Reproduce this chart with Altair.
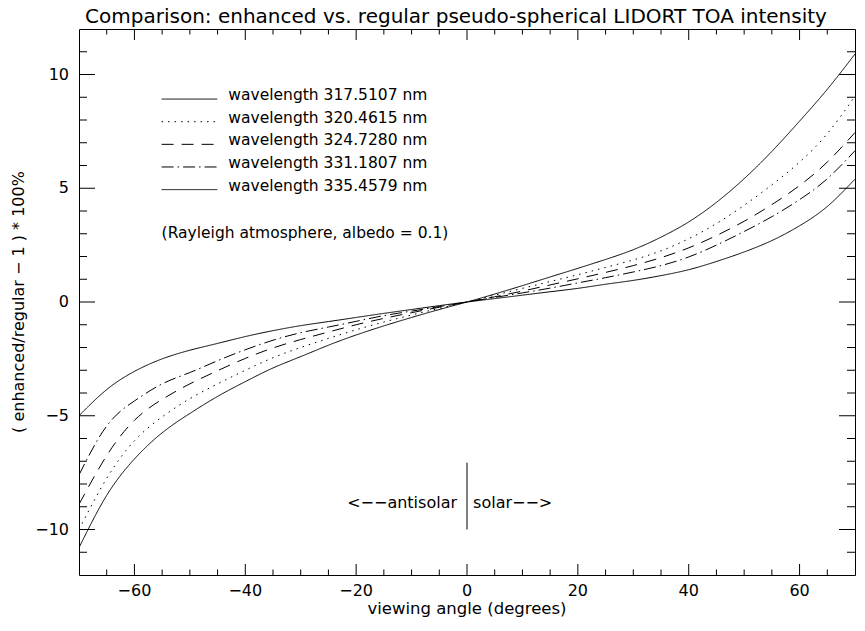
import altair as alt
import pandas as pd

# ---------------- data ----------------
angles = [-70, -65, -60, -55, -50, -45, -40, -35, -30, -25, -20, -15, -10, -5, 0,
          5, 10, 15, 20, 25, 30, 35, 40, 45, 50, 55, 60, 65, 70]

c317 = [-10.8, -8.5, -6.9, -5.75, -4.9, -4.15, -3.5, -2.9, -2.4, -1.9, -1.45, -1.05, -0.68, -0.33, 0,
        0.35, 0.72, 1.1, 1.48, 1.87, 2.3, 2.85, 3.52, 4.38, 5.42, 6.62, 7.95, 9.35, 10.9]
c320 = [-10.0, -7.75, -6.1, -5.05, -4.25, -3.6, -3.0, -2.45, -2.0, -1.6, -1.22, -0.88, -0.57, -0.28, 0,
        0.3, 0.6, 0.9, 1.2, 1.52, 1.85, 2.25, 2.78, 3.45, 4.25, 5.15, 6.15, 7.4, 9.05]
c324 = [-8.9, -6.75, -5.2, -4.28, -3.6, -3.02, -2.48, -2.02, -1.65, -1.32, -1.0, -0.72, -0.47, -0.23, 0,
        0.23, 0.48, 0.75, 1.02, 1.3, 1.6, 1.95, 2.38, 2.92, 3.55, 4.28, 5.12, 6.15, 7.45]
c331 = [-7.6, -5.45, -4.35, -3.6, -3.1, -2.58, -2.1, -1.68, -1.35, -1.1, -0.85, -0.6, -0.4, -0.2, 0,
        0.2, 0.4, 0.61, 0.84, 1.07, 1.32, 1.6, 1.98, 2.5, 3.1, 3.75, 4.5, 5.42, 6.65]
c335 = [-5.0, -3.85, -3.05, -2.5, -2.12, -1.82, -1.52, -1.26, -1.04, -0.86, -0.68, -0.5, -0.33, -0.16, 0,
        0.15, 0.3, 0.45, 0.6, 0.78, 0.95, 1.16, 1.42, 1.78, 2.2, 2.7, 3.35, 4.2, 5.4]

wavelengths = ["317.5107", "320.4615", "324.7280", "331.1807", "335.4579"]
series_values = [c317, c320, c324, c331, c335]

x_major = [-60, -40, -20, 0, 20, 40, 60]
y_major = [-10, -5, 0, 5, 10]
x_minor = [v for v in range(-65, 70, 5) if v not in x_major]
y_minor = [v for v in range(-11, 12) if v not in y_major]

title_text = "Comparison: enhanced vs. regular pseudo-spherical LIDORT TOA intensity"
x_title = "viewing angle (degrees)"
y_title = "( enhanced/regular \u2212 1 ) * 100%"
note_text = "(Rayleigh atmosphere, albedo = 0.1)"
left_word = "<\u2212\u2212antisolar"
right_word = "solar\u2212\u2212>"

# ---------------- styles ----------------
dash_styles = [[1, 0], [1.5, 5], [12, 8], [12, 4, 1.5, 4], [1, 0]]
FONT = "DejaVu Sans"
W, H = 776, 546
X_DOM = [-70, 70]
Y_DOM = [-12, 12]

labels = [f"wavelength {w} nm" for w in wavelengths]


def fmt(v):
    return str(v).replace("-", "\u2212")


rows = []
for lab, vals in zip(labels, series_values):
    for a, v in zip(angles, vals):
        rows.append({"angle": a, "value": v, "series": lab})
df = pd.DataFrame(rows)

xs = alt.Scale(domain=X_DOM, nice=False, zero=False)
ys = alt.Scale(domain=Y_DOM, nice=False, zero=False)
dash_scale = alt.Scale(domain=labels, range=dash_styles)


def X(field):
    return alt.X(field, scale=xs, axis=None)


def Y(field):
    return alt.Y(field, scale=ys, axis=None)


# inward tick marks on all four sides
def xticks(vals, length):
    d = pd.DataFrame({"v": vals})
    base = alt.Chart(d).mark_rule(color="black", strokeWidth=1)
    bottom = base.encode(x=X("v:Q"), y=alt.value(H), y2=alt.value(H - length))
    top = base.encode(x=X("v:Q"), y=alt.value(0), y2=alt.value(length))
    return [bottom, top]


def yticks(vals, length):
    d = pd.DataFrame({"v": vals})
    base = alt.Chart(d).mark_rule(color="black", strokeWidth=1)
    left = base.encode(y=Y("v:Q"), x=alt.value(0), x2=alt.value(length))
    right = base.encode(y=Y("v:Q"), x=alt.value(W), x2=alt.value(W - length))
    return [left, right]


tick_layers = xticks(x_major, 11) + xticks(x_minor, 5.5) + yticks(y_major, 16) + yticks(y_minor, 8)

# tick labels, axis titles and chart title as text marks
xlab_df = pd.DataFrame({"lv": x_major, "lt": [fmt(v) for v in x_major]})
ylab_df = pd.DataFrame({"lv": y_major, "lt": [fmt(v) for v in y_major]})

x_labels = alt.Chart(xlab_df).mark_text(font=FONT, fontSize=16, color="black",
                                        align="center", baseline="middle").encode(
    x=X("lv:Q"), y=alt.value(H + 16), text="lt:N")
y_labels = alt.Chart(ylab_df).mark_text(font=FONT, fontSize=16, color="black",
                                        align="right", baseline="middle").encode(
    y=Y("lv:Q"), x=alt.value(-10), text="lt:N")

x_title_mark = alt.Chart(pd.DataFrame({"tt": [x_title]})).mark_text(
    font=FONT, fontSize=16.5, color="black", align="center", baseline="middle").encode(
    x=alt.value(W / 2), y=alt.value(H + 34), text="tt:N")
y_title_mark = alt.Chart(pd.DataFrame({"tt": [y_title]})).mark_text(
    font=FONT, fontSize=16, color="black", align="center", baseline="middle", angle=270).encode(
    x=alt.value(-60), y=alt.value(H / 2), text="tt:N")
title_mark = alt.Chart(pd.DataFrame({"tt": [title_text]})).mark_text(
    font=FONT, fontSize=20, color="black", align="center", baseline="alphabetic").encode(
    x=alt.value(W / 2 - 11), y=alt.value(-6), text="tt:N")

curves = alt.Chart(df).mark_line(color="black", strokeWidth=1, interpolate="natural", clip=True).encode(
    x=X("angle:Q"),
    y=Y("value:Q"),
    strokeDash=alt.StrokeDash("series:N", scale=dash_scale, legend=None),
    detail="series:N",
)

# legend built from the series labels
leg_df = pd.DataFrame({"series": labels})
leg_df["row"] = [9.1 - 0.995 * i for i in range(len(labels))]
leg_df["line_y"] = leg_df["row"] - 0.18
leg_df["x1"] = -55.1
leg_df["x2"] = -45.05
leg_df["xt"] = -43.06

legend_lines = alt.Chart(leg_df).mark_rule(color="black", strokeWidth=1).encode(
    x=X("x1:Q"), x2="x2:Q",
    y=Y("line_y:Q"),
    strokeDash=alt.StrokeDash("series:N", scale=dash_scale, legend=None),
)
legend_text = alt.Chart(leg_df).mark_text(align="left", baseline="middle", font=FONT,
                                          fontSize=15.5, color="black").encode(
    x=X("xt:Q"), y=Y("row:Q"), text="series:N",
)

note = alt.Chart(pd.DataFrame({"t": [note_text], "x": [-55.1], "y": [3.02]})).mark_text(
    align="left", baseline="middle", font=FONT, fontSize=15.5, color="black").encode(
    x=X("x:Q"), y=Y("y:Q"), text="t:N")

ann_left = alt.Chart(pd.DataFrame({"t": [left_word], "x": [-1.8], "y": [-8.85]})).mark_text(
    align="right", baseline="middle", font=FONT, fontSize=16, color="black").encode(
    x=X("x:Q"), y=Y("y:Q"), text="t:N")
ann_right = alt.Chart(pd.DataFrame({"t": [right_word], "x": [1.1], "y": [-8.85]})).mark_text(
    align="left", baseline="middle", font=FONT, fontSize=16, color="black").encode(
    x=X("x:Q"), y=Y("y:Q"), text="t:N")
divider = alt.Chart(pd.DataFrame({"x": [0], "y": [-7.06], "y2": [-10.0]})).mark_rule(
    color="black", strokeWidth=1).encode(
    x=X("x:Q"), y=Y("y:Q"), y2="y2:Q")

chart = alt.layer(curves, legend_lines, legend_text, note, ann_left, ann_right, divider,
                  *tick_layers, x_labels, y_labels, x_title_mark, y_title_mark,
                  title_mark).properties(
    width=W, height=H,
    autosize="none",
    padding={"left": 71, "top": 21, "right": 2, "bottom": 47},
).configure_view(stroke="black", strokeWidth=1)

chart.save("out.html", embed_options={"renderer": "svg", "actions": False})
